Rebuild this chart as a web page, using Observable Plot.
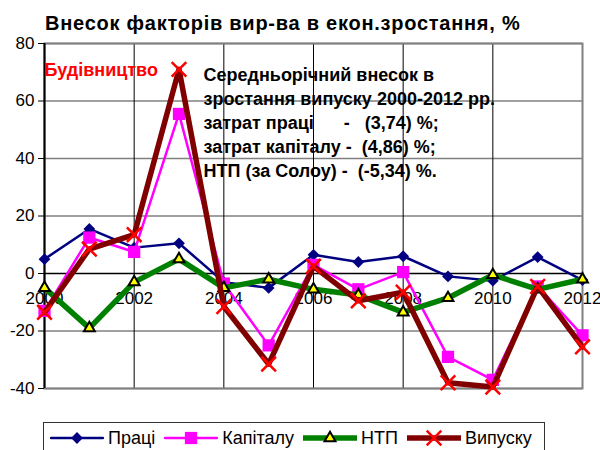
<!DOCTYPE html>
<html>
<head>
<meta charset="utf-8">
<script src="https://cdn.jsdelivr.net/npm/d3@7"></script>
<script src="https://cdn.jsdelivr.net/npm/@observablehq/plot@0.6"></script>
<style>
  html, body { margin: 0; padding: 0; background: #fff; }
  body { font-family: "Liberation Sans", Arial, sans-serif; }
  #wrap { position: relative; width: 600px; height: 450px; overflow: hidden; background: #fff; }
  #title { position: absolute; left: 45px; top: 11px; width: 540px; text-align: left;
           font-weight: bold; font-size: 20px; line-height: 24px; letter-spacing: 0.75px; color: #000; z-index: 2; }
  #chart { position: absolute; left: 0; top: 0; }
  #chart svg text { white-space: pre; }
  #legend { position: absolute; left: 43px; top: 422px; width: 502px; height: 40px;
            border: 1px solid #333; box-sizing: border-box; background: #fff; z-index: 2; }
  #legend .row { display: flex; align-items: center; height: 30px; padding-left: 6px; }
  #legend .item { display: flex; align-items: center; margin-right: 9px; }
  #legend svg { display: block; margin-right: 4px; }
  #legend span { font-size: 18px; color: #000; }
</style>
</head>
<body>
<div id="wrap">
  <div id="chart"></div>
  <div id="title"></div>
  <div id="legend"></div>
</div>
<script>
// ---- data ----
const titleText = "Внесок факторів вир-ва в екон.зростання, %";
const years = [2000, 2001, 2002, 2003, 2004, 2005, 2006, 2007, 2008, 2009, 2010, 2011, 2012];
const xTicks = [2000, 2002, 2004, 2006, 2008, 2010, 2012];
const yTicks = [-40, -20, 0, 20, 40, 60, 80];
const seriesNames = ["Праці", "Капіталу", "НТП", "Випуску"];
const labour  = [5, 15.5, 9, 10.5, -3, -5, 6.5, 4, 6, -1, -2.5, 5.7, -2.3];
const capital = [-13, 12.5, 7.5, 55.5, -3.5, -25, 3, -5.5, 0.5, -29, -37, -4.5, -21.5];
const tfp     = [-5, -19, -3, 5, -5, -2, -5.5, -7.5, -13.5, -8.5, -0.5, -5.5, -2];
const output  = [-13.5, 8.5, 13.5, 71, -11.5, -31.5, 2.5, -9.5, -6.5, -38, -39.5, -4.5, -25.5];
const sectorLabel = "Будівництво";
const noteLines = [
  "Середньорічний внесок в",
  "зростання випуску 2000-2012 рр.",
  "затрат праці      -   (3,74) %;",
  "затрат капіталу -  (4,86) %;",
  "НТП (за Солоу) -  (-5,34) %."
];

// ---- styles ----
const styles = [
  {line: "#000080", lw: 2.5, symbol: "diamond2", d3sym: d3.symbolDiamond2, r: 5.3, fill: "#000080", stroke: "none", sw: 0},
  {line: "#FF00FF", lw: 2.5, symbol: "square2", d3sym: d3.symbolSquare2, r: 7.8, fill: "#FF00FF", stroke: "none", sw: 0},
  {line: "#008000", lw: 5.5, symbol: "triangle2", d3sym: d3.symbolTriangle2, r: 5.2, fill: "#FFFF00", stroke: "#000", sw: 2},
  {line: "#800000", lw: 5.5, symbol: "times", d3sym: d3.symbolTimes, r: 6.7, fill: "none", stroke: "#FF0000", sw: 2.5}
];
const seriesValues = [labour, capital, tfp, output];

const rows = (vals) => years.map((y, i) => ({year: y, value: vals[i]}));

const seriesMarks = seriesValues.flatMap((vals, k) => {
  const s = styles[k];
  const data = rows(vals);
  return [
    Plot.line(data, {x: "year", y: "value", stroke: s.line, strokeWidth: s.lw, strokeLinejoin: "round", strokeLinecap: "round"}),
    Plot.dot(data, {x: "year", y: "value", symbol: () => s.symbol, r: s.r, fill: s.fill, stroke: s.stroke, strokeWidth: s.sw})
  ];
});

const font = '"Liberation Sans", Arial, sans-serif';

const chart = Plot.plot({
  width: 600,
  height: 450,
  marginTop: 43,
  marginBottom: 62,
  marginLeft: 44,
  marginRight: 18,
  style: {fontFamily: font, background: "transparent", color: "#000"},
  x: {domain: [2000, 2012], axis: null},
  y: {domain: [-40, 80], axis: null},
  symbol: {type: "identity"},
  marks: [
    Plot.ruleY(yTicks.filter(d => d !== 0), {y: d => d, stroke: "#808080", strokeWidth: 1.5}),
    Plot.ruleX(xTicks.filter(d => d > 2000 && d < 2012), {x: d => d, stroke: "#000", strokeWidth: 1}),
    Plot.frame({stroke: "#808080", strokeWidth: 2}),
    Plot.ruleY([0], {stroke: "#000", strokeWidth: 1.5}),
    Plot.ruleX([2000], {stroke: "#000", strokeWidth: 2}),
    Plot.axisY({ticks: yTicks, tickSize: 6, tickPadding: 4, fontSize: 17, label: null, stroke: "#000", tickFormat: d => String(d)}),
    Plot.text(xTicks, {x: d => d, y: 0, dy: 25, text: d => String(d), fontSize: 17, fill: "#000"}),
    Plot.text([sectorLabel], {frameAnchor: "top-left", dx: 0, dy: 20, text: d => d, fill: "#FF0000",
      fontWeight: "bold", fontSize: 18, textAnchor: "start", lineAnchor: "top"}),
    Plot.text([noteLines.join("\n")], {frameAnchor: "top-left", dx: 159, dy: 20, text: d => d, fill: "#000",
      fontWeight: "bold", fontSize: 18, lineHeight: 1.333, textAnchor: "start", lineAnchor: "top"}),
    ...seriesMarks
  ]
});
document.getElementById("chart").appendChild(chart);
document.getElementById("title").textContent = titleText;

// ---- legend ----
const legend = document.getElementById("legend");
const row = document.createElement("div");
row.className = "row";
legend.appendChild(row);
seriesNames.forEach((name, k) => {
  const s = styles[k];
  const item = document.createElement("div");
  item.className = "item";
  const w = 54, h = 18;
  const svg = d3.create("svg").attr("width", w).attr("height", h);
  svg.append("line").attr("x1", 1).attr("x2", w - 1).attr("y1", h / 2).attr("y2", h / 2)
    .attr("stroke", s.line).attr("stroke-width", s.lw).attr("stroke-linecap", "round");
  svg.append("path").attr("transform", `translate(${w / 2},${h / 2})`)
    .attr("d", d3.symbol(s.d3sym, s.r * s.r * Math.PI)())
    .attr("fill", s.fill).attr("stroke", s.stroke).attr("stroke-width", s.sw);
  item.appendChild(svg.node());
  const span = document.createElement("span");
  span.textContent = name;
  item.appendChild(span);
  row.appendChild(item);
});
</script>
</body>
</html>
